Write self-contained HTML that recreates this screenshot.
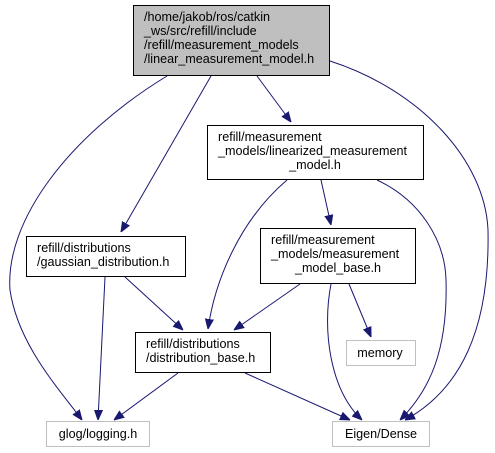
<!DOCTYPE html>
<html><head><style>body{margin:0;background:#fff}svg{display:block}</style></head><body>
<svg width="495" height="453" viewBox="0 0 495 453" xmlns="http://www.w3.org/2000/svg" font-family="Liberation Sans, sans-serif" font-size="12.6">
<defs><marker id="a" viewBox="0 0 10 10" refX="10" refY="5" markerWidth="10" markerHeight="10" markerUnits="userSpaceOnUse" orient="auto-start-reverse"><path d="M0,1 L10,5 L0,9z" fill="#191970" stroke="#191970"/></marker></defs>
<g fill="none" stroke="#191970" stroke-width="1" marker-end="url(#a)">
<path d="M167,76 C70,135 5,220 10,290 C18,345 60,390 82,420"/>
<path d="M211,76 L121,232"/>
<path d="M257,76 L291,122"/>
<path d="M330,61 C420,90 485,160 488,230 C490,330 460,390 405,420"/>
<path d="M287,180 C240,220 215,280 208,329"/>
<path d="M321,180 L331,225"/>
<path d="M377,180 C420,200 445,240 446,280 C448,350 430,390 400,420"/>
<path d="M300,284 L234,330"/>
<path d="M349,284 L371,337"/>
<path d="M331,284 C322,330 330,390 362,420"/>
<path d="M125,277 L183,330"/>
<path d="M105,277 L98,420"/>
<path d="M178,373 L114,420"/>
<path d="M245,373 L350,420"/>
</g>
<g stroke="#000" stroke-width="1">
<rect x="133.5" y="5.5" width="196" height="70" fill="#bfbfbf"/>
<rect x="207.5" y="125.5" width="216" height="54" fill="#fff"/>
<rect x="26.5" y="236.5" width="159" height="40" fill="#fff"/>
<rect x="260.5" y="228.5" width="155" height="55" fill="#fff"/>
<rect x="135.5" y="332.5" width="135" height="40" fill="#fff"/>
</g>
<g stroke="#bfbfbf" fill="#fff">
<rect x="346.5" y="340.5" width="69" height="25"/>
<rect x="46.5" y="421.5" width="103" height="25"/>
<rect x="332.5" y="421.5" width="97" height="25"/>
</g>
<g fill="#000">
<text x="144" y="21">/home/jakob/ros/catkin</text>
<text x="144" y="35">_ws/src/refill/include</text>
<text x="144" y="49">/refill/measurement_models</text>
<text x="144" y="63">/linear_measurement_model.h</text>
<text x="218" y="141">refill/measurement</text>
<text x="218" y="155">_models/linearized_measurement</text>
<text x="315" y="169" text-anchor="middle">_model.h</text>
<text x="37" y="252">refill/distributions</text>
<text x="37" y="266">/gaussian_distribution.h</text>
<text x="271" y="244">refill/measurement</text>
<text x="271" y="258">_models/measurement</text>
<text x="338" y="272" text-anchor="middle">_model_base.h</text>
<text x="146" y="348">refill/distributions</text>
<text x="146" y="362">/distribution_base.h</text>
<text x="380" y="357" text-anchor="middle">memory</text>
<text x="98" y="438" text-anchor="middle">glog/logging.h</text>
<text x="381" y="438" text-anchor="middle">Eigen/Dense</text>
</g>
</svg>
</body></html>
